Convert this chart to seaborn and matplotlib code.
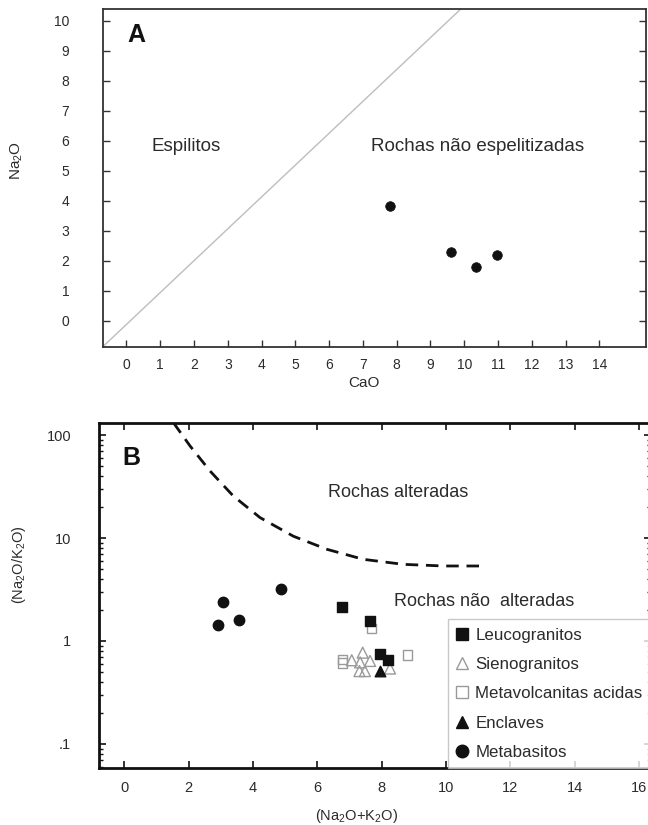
import numpy as np
import pandas as pd
import matplotlib
matplotlib.use("Agg")
import matplotlib.pyplot as plt
from matplotlib.ticker import FixedLocator, FixedFormatter, LogLocator, NullFormatter
from matplotlib.lines import Line2D
import seaborn as sns

sns.set_theme(style="white")
plt.rcParams['font.family'] = ['Liberation Sans', 'DejaVu Sans']
plt.rcParams['mathtext.fontset'] = 'custom'
plt.rcParams['mathtext.rm'] = 'Liberation Sans'
plt.rcParams['mathtext.it'] = 'Liberation Sans'

# ---------------- Panel A data ----------------
cao_metabasitos = [7.8, 9.6, 10.36, 10.97]
na2o_metabasitos = [3.83, 2.3, 1.81, 2.2]
divide_a_x = [-0.71, 9.9]
divide_a_y = [-0.87, 10.39]
a_xticks = list(range(0, 15))
a_yticks = list(range(0, 11))

# ---------------- Panel B data ----------------
leuco_x = [6.76, 7.64, 7.95, 8.21]
leuco_y = [2.16, 1.58, 0.74, 0.65]
sieno_x = [7.07, 7.41, 7.64, 7.33, 7.31, 7.48, 8.26]
sieno_y = [0.65, 0.77, 0.64, 0.62, 0.51, 0.51, 0.54]
metavolc_x = [7.69, 6.79, 6.79, 8.8]
metavolc_y = [1.32, 0.66, 0.61, 0.73]
enclave_x = [7.95]
enclave_y = [0.51]
metab_x = [2.92, 3.07, 3.58, 4.88]
metab_y = [1.43, 2.41, 1.61, 3.23]
curve_x = [1.53, 2.05, 2.67, 3.39, 4.22, 5.26, 6.30, 7.43, 8.67, 9.92, 11.21]
curve_y = [132, 78.2, 44.7, 25.6, 15.8, 10.4, 7.77, 6.21, 5.55, 5.35, 5.35]
b_xticks = list(range(0, 17, 2))
b_yticks = [0.1, 1, 10, 100]
b_yticklabels = [".1", "1", "10", "100"]

TXT = "#2b2b2b"

fig = plt.figure(figsize=(6.48, 8.25), dpi=100)

# ======================= Panel A =======================
axA = fig.add_axes([0.1582, 0.5794, 0.838, 0.4097])
dfa = pd.DataFrame({"CaO": cao_metabasitos, "Na2O": na2o_metabasitos})
sns.lineplot(x=divide_a_x, y=divide_a_y, ax=axA, color="#bdbdbd", lw=1.0,
             sort=False, estimator=None)
sns.scatterplot(data=dfa, x="CaO", y="Na2O", ax=axA, color="#111111",
                s=48, marker="o", edgecolor="#111111", linewidth=0.5, zorder=3)
axA.set_xlim(-0.71, 15.37)
axA.set_ylim(-0.87, 10.39)
axA.xaxis.set_major_locator(FixedLocator(a_xticks))
axA.yaxis.set_major_locator(FixedLocator(a_yticks))
axA.tick_params(axis="both", which="major", direction="in", length=5, width=1.0,
                color="#333333", labelsize=10, labelcolor=TXT)
axA.tick_params(axis="y", left=True, right=True, pad=24)
axA.tick_params(axis="x", bottom=True, top=False, pad=8)
for sp in axA.spines.values():
    sp.set_color("#333333")
    sp.set_linewidth(1.3)
axA.set_xlabel("CaO", fontsize=11, color=TXT)
axA.set_ylabel(r"Na$_2$O", fontsize=11, color=TXT)
axA.xaxis.set_label_coords(0.481, -0.086)
axA.yaxis.set_label_coords(-0.143, 0.553)
axA.text(0.29, 9.52, "A", fontsize=18, fontweight="bold", color="#111111",
         ha="center", va="center")
axA.text(1.76, 5.8, "Espilitos", fontsize=13.5, color=TXT, ha="center", va="center")
axA.text(10.39, 5.8, "Rochas não espelitizadas", fontsize=13.5, color=TXT,
         ha="center", va="center")

# ======================= Panel B =======================
axB = fig.add_axes([0.1528, 0.0687, 0.852, 0.4182])
axB.set_yscale("log")
sns.lineplot(x=curve_x, y=curve_y, ax=axB, color="#111111", lw=2.0,
             linestyle=(0, (4.5, 2.8)), sort=False, estimator=None)

groups = [
    ("Metavolcanitas acidas", metavolc_x, metavolc_y, "s", "none", "#9a9a9a", 44),
    ("Sienogranitos", sieno_x, sieno_y, "^", "none", "#9a9a9a", 62),
    ("Leucogranitos", leuco_x, leuco_y, "s", "#111111", "#111111", 44),
    ("Enclaves", enclave_x, enclave_y, "^", "#111111", "#111111", 58),
    ("Metabasitos", metab_x, metab_y, "o", "#111111", "#111111", 56),
]
for name, gx, gy, mk, fc, ec, sz in groups:
    d = pd.DataFrame({"x": gx, "y": gy})
    sns.scatterplot(data=d, x="x", y="y", ax=axB, marker=mk, s=sz,
                    facecolor=fc, edgecolor=ec, linewidth=1.0, zorder=3)

axB.set_xlim(-0.78, 16.37)
axB.set_ylim(0.058, 130)
axB.xaxis.set_major_locator(FixedLocator(b_xticks))
axB.yaxis.set_major_locator(FixedLocator(b_yticks))
axB.yaxis.set_major_formatter(FixedFormatter(b_yticklabels))
axB.yaxis.set_minor_locator(LogLocator(base=10, subs=np.arange(2, 10)))
axB.yaxis.set_minor_formatter(NullFormatter())
axB.tick_params(axis="both", which="major", direction="in", length=5, width=1.2,
                color="#111111", labelsize=10.5, labelcolor=TXT)
axB.tick_params(axis="both", which="minor", direction="in", length=3, width=1.0,
                color="#111111")
axB.tick_params(axis="x", bottom=True, top=True, pad=9)
axB.tick_params(axis="y", which="both", left=True, right=True, pad=20)
for sp in axB.spines.values():
    sp.set_color("#111111")
    sp.set_linewidth(2.0)
axB.set_xlabel(r"(Na$_2$O+K$_2$O)", fontsize=10.5, color=TXT)
axB.set_ylabel(r"(Na$_2$O/K$_2$O)", fontsize=10.5, color=TXT)
axB.xaxis.set_label_coords(0.466, -0.112)
axB.yaxis.set_label_coords(-0.128, 0.589)
axB.text(0.23, 60, "B", fontsize=18, fontweight="bold", color="#111111",
         ha="center", va="center")
axB.text(8.52, 27.6, "Rochas alteradas", fontsize=13, color=TXT,
         ha="center", va="center")
axB.text(11.17, 2.41, "Rochas não  alteradas", fontsize=13, color=TXT,
         ha="center", va="center")

handles = [
    Line2D([], [], marker="s", ls="none", mfc="#111111", mec="#111111", ms=8),
    Line2D([], [], marker="^", ls="none", mfc="none", mec="#9a9a9a", ms=9, mew=1.0),
    Line2D([], [], marker="s", ls="none", mfc="none", mec="#9a9a9a", ms=8.5, mew=1.0),
    Line2D([], [], marker="^", ls="none", mfc="#111111", mec="#111111", ms=9),
    Line2D([], [], marker="o", ls="none", mfc="#111111", mec="#111111", ms=9),
]
labels = ["Leucogranitos", "Sienogranitos", "Metavolcanitas acidas", "Enclaves", "Metabasitos"]
leg = axB.legend(handles, labels, loc="lower right", bbox_to_anchor=(1.0, 0.0),
                 frameon=True, fancybox=False, fontsize=12.2, handlelength=0.6,
                 handletextpad=0.5, labelspacing=0.84, borderpad=0.5,
                 borderaxespad=0.0)
leg.get_frame().set_edgecolor("#bbbbbb")
leg.get_frame().set_linewidth(1.0)
for t in leg.get_texts():
    t.set_color(TXT)

fig.savefig("out.png", dpi=100)
